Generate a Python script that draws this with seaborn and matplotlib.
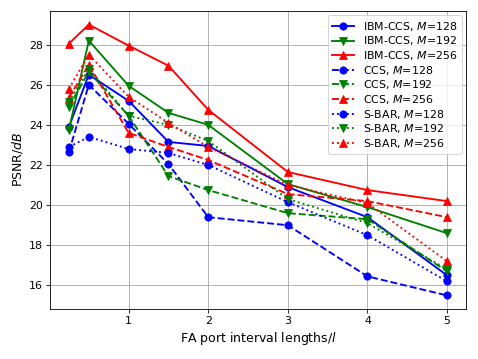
import numpy as np
import pandas as pd
import matplotlib
matplotlib.use("Agg")
import matplotlib.pyplot as plt
import seaborn as sns

# FA port interval lengths (in units of l)
intervals = [0.25, 0.5, 1, 1.5, 2, 3, 4, 5]

# PSNR (dB)
ibm_ccs_128 = [23.9, 26.5, 25.2, 23.15, 22.95, 20.9, 19.4, 16.5]
ibm_ccs_192 = [23.75, 28.2, 25.95, 24.6, 24.0, 21.05, 19.9, 18.6]
ibm_ccs_256 = [28.05, 29.0, 27.95, 26.95, 24.75, 21.65, 20.75, 20.2]
ccs_128 = [22.65, 26.0, 24.05, 22.05, 19.4, 19.0, 16.45, 15.5]
ccs_192 = [24.9, 26.65, 24.45, 21.45, 20.75, 19.6, 19.3, 16.7]
ccs_256 = [25.35, 27.0, 23.6, 22.9, 22.25, 20.55, 20.2, 19.4]
sbar_128 = [22.9, 23.4, 22.8, 22.6, 22.0, 20.15, 18.5, 16.2]
sbar_192 = [25.15, 26.8, 24.45, 24.0, 23.2, 20.3, 19.1, 16.8]
sbar_256 = [25.8, 27.5, 25.4, 24.1, 22.9, 21.0, 20.1, 17.2]

series = [
    ("IBM-CCS, $M$=128", ibm_ccs_128, "b", "o", "-"),
    ("IBM-CCS, $M$=192", ibm_ccs_192, "g", "v", "-"),
    ("IBM-CCS, $M$=256", ibm_ccs_256, "r", "^", "-"),
    ("CCS, $M$=128", ccs_128, "b", "o", "--"),
    ("CCS, $M$=192", ccs_192, "g", "v", "--"),
    ("CCS, $M$=256", ccs_256, "r", "^", "--"),
    ("S-BAR, $M$=128", sbar_128, "b", "o", ":"),
    ("S-BAR, $M$=192", sbar_192, "g", "v", ":"),
    ("S-BAR, $M$=256", sbar_256, "r", "^", ":"),
]

fig = plt.figure(figsize=(478 / 75, 359 / 75), dpi=75)
ax = fig.add_axes([50 / 478, 1 - 309 / 359, 416 / 478, 298 / 359])

for label, vals, col, mk, ls in series:
    df = pd.DataFrame({"x": intervals, "y": vals})
    sns.lineplot(data=df, x="x", y="y", color=col, marker=mk, linestyle=ls,
                 markeredgecolor=col, markersize=7, linewidth=1.8,
                 label=label, ax=ax)

ax.grid(True, color="#b0b0b0", linewidth=0.9)
ax.set_xlabel("FA port interval lengths/$l$", fontsize=12)
ax.set_ylabel("PSNR/$dB$", fontsize=12)
ax.tick_params(labelsize=10.5)
ax.legend(loc="upper right", fontsize=10.5, labelspacing=0.15,
          borderaxespad=0.4)

fig.savefig("out.png", dpi=75)
